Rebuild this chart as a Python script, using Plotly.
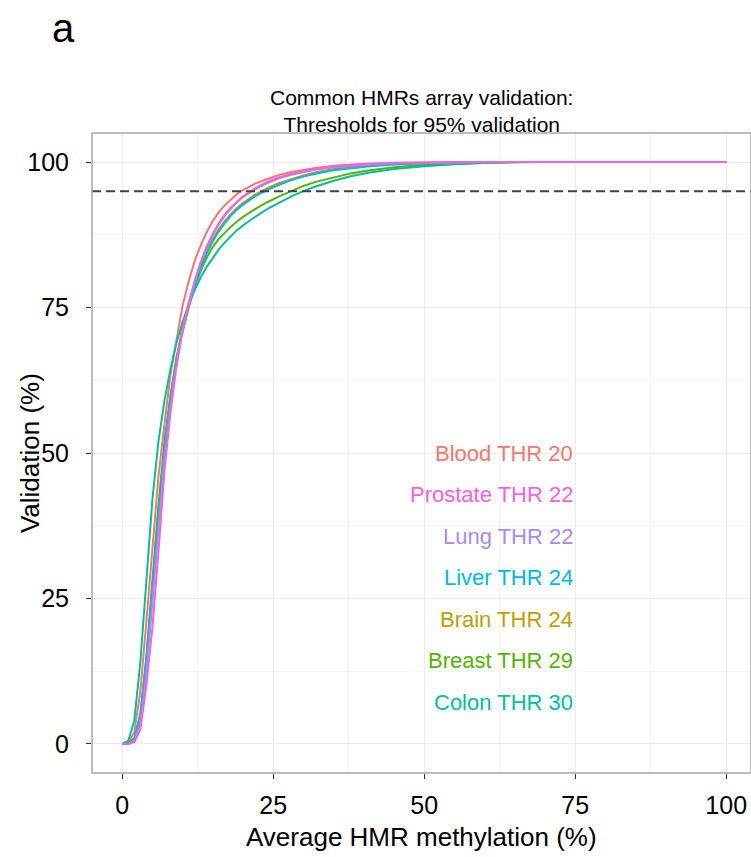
import plotly.graph_objects as go

# ---- data ----
x_meth = [0, 1, 2, 3, 4, 5, 6, 7, 8, 9, 10, 11, 12, 13, 14, 15, 16, 17, 18, 19, 20,
          22, 24, 26, 28, 30, 32, 35, 38, 41, 45, 50, 55, 60, 65, 70, 80, 90, 100]

tissues = ["Blood", "Brain", "Breast", "Colon", "Liver", "Lung", "Prostate"]
colors = ["#F8766D", "#C49A00", "#53B400", "#00C094", "#00B6EB", "#A58AFF", "#FB61D7"]

blood = [0, 0.3, 2, 9, 21, 34, 46, 55, 63.5, 69.5, 75.3, 79.5, 83, 85.7, 88, 89.9, 91.4, 92.6, 93.6, 94.5, 95.2,
         96.3, 97.1, 97.8, 98.3, 98.7, 99, 99.35, 99.6, 99.75, 99.87, 99.95, 100, 100, 100, 100, 100, 100, 100]
brain = [0, 0, 0.6, 4.5, 14, 27, 40, 51, 59.5, 66.2, 71.6, 75.8, 79.3, 82.3, 84.8, 86.8, 88.5, 89.9, 91.1, 92.1, 93,
         94.4, 95.5, 96.4, 97.1, 97.7, 98.2, 98.8, 99.2, 99.45, 99.7, 99.85, 99.95, 100, 100, 100, 100, 100, 100]
breast = [0, 0.1, 1, 5, 15, 28, 41, 52, 60, 66.5, 71, 75, 78.5, 81.3, 83.6, 85.4, 86.8, 87.9, 88.9, 89.8, 90.6,
          91.9, 93.1, 94.1, 94.95, 95.9, 96.6, 97.4, 98.1, 98.6, 99.1, 99.5, 99.75, 99.9, 100, 100, 100, 100, 100]
colon = [0, 0.5, 4, 14, 28, 42, 52, 59, 64.5, 69, 72.5, 75.5, 78, 80.2, 82, 83.6, 85, 86.2, 87.3, 88.3, 89.1,
         90.6, 91.9, 93, 94.1, 95, 95.8, 96.8, 97.6, 98.2, 98.8, 99.3, 99.65, 99.85, 99.95, 100, 100, 100, 100]
liver = [0, 0, 0.8, 5, 14.5, 27, 40, 51, 59.5, 66, 71.3, 75.3, 78.8, 81.8, 84.3, 86.4, 88.1, 89.5, 90.8, 91.8, 92.7,
         94.1, 95.2, 96.1, 96.9, 97.5, 98, 98.6, 99, 99.3, 99.6, 99.8, 99.92, 100, 100, 100, 100, 100, 100]
lung = [0, 0, 0.5, 3.5, 12, 24, 37, 49, 58, 65.5, 71.3, 75.7, 79.5, 82.7, 85.3, 87.5, 89.3, 90.8, 92, 93.1, 94,
        95.3, 96.4, 97.2, 97.8, 98.3, 98.7, 99.1, 99.4, 99.6, 99.8, 99.9, 100, 100, 100, 100, 100, 100, 100]
prostate = [0, 0, 0.3, 2.5, 10, 20, 33, 47, 57, 65, 71, 75.5, 79.5, 82.8, 85.5, 87.7, 89.5, 91, 92.2, 93.2, 94.1,
            95.5, 96.6, 97.4, 98, 98.5, 98.9, 99.3, 99.55, 99.7, 99.85, 99.95, 100, 100, 100, 100, 100, 100, 100]

series = [blood, brain, breast, colon, liver, lung, prostate]

label_tissues = ["Blood", "Prostate", "Lung", "Liver", "Brain", "Breast", "Colon"]
label_thr = [20, 22, 22, 24, 24, 29, 30]
label_y = [50, 42.857, 35.714, 28.571, 21.429, 14.286, 7.143]
label_x = 75
threshold = 95

x_ticks = [0, 25, 50, 75, 100]
y_ticks = [0, 25, 50, 75, 100]

FONT = "Liberation Sans, Arial, Helvetica, sans-serif"

fig = go.Figure()
for name, col, vals in zip(tissues, colors, series):
    fig.add_trace(go.Scatter(x=x_meth, y=vals, mode="lines", name=name,
                             line=dict(color=col, width=2), showlegend=False))

# dashed threshold line
fig.add_shape(type="line", xref="paper", x0=0, x1=1, yref="y", y0=threshold, y1=threshold,
              line=dict(color="#404040", width=2, dash="9px,5px"))
# panel border
fig.add_shape(type="rect", xref="paper", yref="paper", x0=0, x1=1, y0=0, y1=1,
              line=dict(color="#A6A6A6", width=1.5), layer="above")

cmap = dict(zip(tissues, colors))
for t, thr, yy in zip(label_tissues, label_thr, label_y):
    fig.add_annotation(x=label_x, y=yy, xref="x", yref="y", text=f"{t} THR {thr}",
                       showarrow=False, xanchor="right", yanchor="middle",
                       font=dict(family=FONT, size=22, color=cmap[t]))

fig.add_annotation(xref="paper", yref="paper", x=0.5, y=1.034,
                   text="Common HMRs array validation:<br>Thresholds for 95% validation",
                   showarrow=False, xanchor="center", yanchor="middle",
                   font=dict(family=FONT, size=21, color="black"))
fig.add_annotation(xref="paper", yref="paper", x=-0.044, y=1.164, text="a",
                   showarrow=False, xanchor="center", yanchor="middle",
                   font=dict(family=FONT, size=40, color="black"))
fig.add_annotation(xref="paper", yref="paper", x=0.5, y=-0.1,
                   text="Average HMR methylation (%)",
                   showarrow=False, xanchor="center", yanchor="middle",
                   font=dict(family=FONT, size=26, color="black"))
fig.add_annotation(xref="paper", yref="paper", x=-0.094, y=0.5,
                   text="Validation (%)", textangle=-90,
                   showarrow=False, xanchor="center", yanchor="middle",
                   font=dict(family=FONT, size=26, color="black"))

axis_common = dict(showline=False, zeroline=False, ticks="outside", ticklen=5,
                   tickwidth=1, tickcolor="#333333",
                   showgrid=True, gridcolor="#EBEBEB", gridwidth=1,
                   tickfont=dict(family=FONT, size=25, color="black"))

fig.update_xaxes(range=[-5, 104.1], tickvals=x_ticks, ticklabelstandoff=5,
                 minor=dict(tickvals=[12.5, 37.5, 62.5, 87.5], showgrid=True,
                            gridcolor="#F4F4F4", gridwidth=1, ticks=""),
                 **axis_common)
fig.update_yaxes(range=[-5, 105], tickvals=y_ticks, ticklabelstandoff=12,
                 minor=dict(tickvals=[12.5, 37.5, 62.5, 87.5], showgrid=True,
                            gridcolor="#F4F4F4", gridwidth=1, ticks=""),
                 **axis_common)

fig.update_layout(width=751, height=857,
                  margin=dict(l=92, r=0, t=133, b=84),
                  plot_bgcolor="white", paper_bgcolor="white",
                  font=dict(family=FONT))

fig.write_html("out.html")
